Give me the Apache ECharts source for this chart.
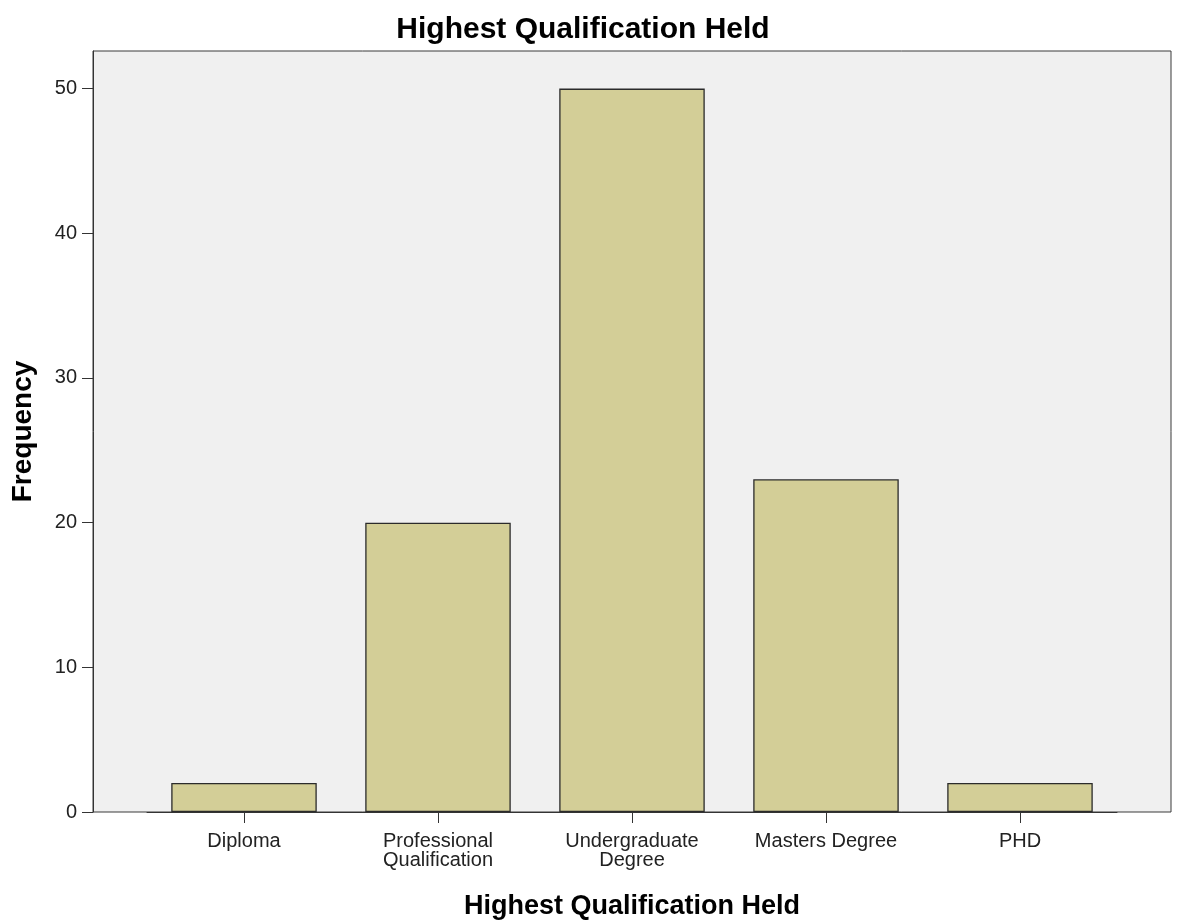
<!DOCTYPE html>
<html>
<head>
<meta charset="utf-8">
<script src="https://cdn.jsdelivr.net/npm/echarts@6/dist/echarts.min.js"></script>
<style>
html,body{margin:0;padding:0;background:#fff;}
#chart{width:1179px;height:921px;}
</style>
</head>
<body>
<div id="chart"></div>
<script>
const categories = ['Diploma', 'Professional\nQualification', 'Undergraduate\nDegree', 'Masters Degree', 'PHD'];
const frequencies = [2, 20, 50, 23, 2];
const yTicks = [0, 10, 20, 30, 40, 50];

const FONT = '"Liberation Sans", Arial, sans-serif';
const chart = echarts.init(document.getElementById('chart'));
const yMax = 52.6;
chart.setOption({
  animation: false,
  backgroundColor: '#ffffff',
  title: {
    text: 'Highest Qualification Held',
    left: 578,
    textAlign: 'center',
    top: 10,
    textStyle: { fontFamily: FONT, fontSize: 30, fontWeight: 'bold', color: '#000' }
  },
  grid: [
    { left: 93, top: 51, width: 1078, height: 761, outerBoundsMode: 'none', containLabel: false, show: true, backgroundColor: '#f0f0f0', borderColor: '#3a3a3a', borderWidth: 1 },
    { left: 147, top: 51, width: 970, height: 761, outerBoundsMode: 'none', containLabel: false }
  ],
  xAxis: [
    { type: 'value', gridIndex: 0, min: 0, max: 1, show: false },
    {
      type: 'category', gridIndex: 1, data: categories,
      axisLine: { show: true, lineStyle: { color: '#333', width: 1 } },
      axisTick: { show: true, alignWithLabel: true, length: 11, lineStyle: { color: '#333' } },
      axisLabel: { fontFamily: FONT, fontSize: 20, color: '#222', margin: 20, lineHeight: 19, interval: 0 },
      name: 'Highest Qualification Held',
      nameLocation: 'middle',
      nameGap: 81,
      nameTextStyle: { fontFamily: FONT, fontSize: 27, fontWeight: 'bold', color: '#000' }
    }
  ],
  yAxis: [
    {
      type: 'value', gridIndex: 0, min: 0, max: yMax, interval: 10,
      axisLine: { show: true, lineStyle: { color: '#333' } },
      axisTick: { show: true, length: 11, lineStyle: { color: '#333' }, customValues: yTicks },
      axisLabel: { fontFamily: FONT, fontSize: 20, color: '#222', margin: 16, customValues: yTicks },
      splitLine: { show: false },
      name: 'Frequency',
      nameLocation: 'middle',
      nameGap: 56,
      nameTextStyle: { fontFamily: FONT, fontSize: 28, fontWeight: 'bold', color: '#000' }
    },
    { type: 'value', gridIndex: 1, min: 0, max: yMax, show: false, splitLine: { show: false } }
  ],
  series: [{
    type: 'bar',
    xAxisIndex: 1,
    yAxisIndex: 1,
    data: frequencies,
    barCategoryGap: '25%',
    itemStyle: { color: '#d3ce97', borderColor: '#2b2b2b', borderWidth: 1.3 }
  }]
});
</script>
</body>
</html>
